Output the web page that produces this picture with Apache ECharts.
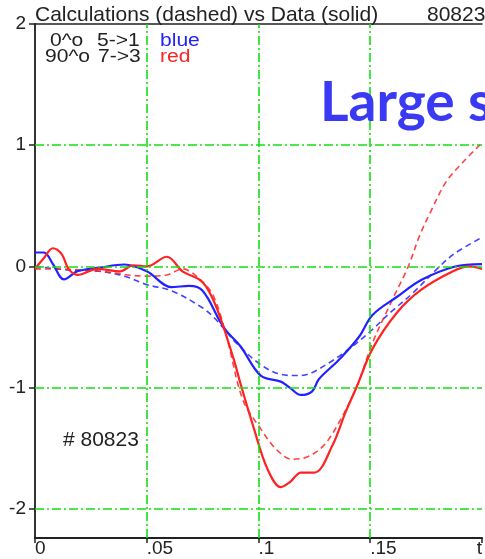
<!DOCTYPE html>
<html>
<head>
<meta charset="utf-8">
<script src="https://cdn.jsdelivr.net/npm/echarts@6/dist/echarts.min.js"></script>
<style>
  html, body { margin: 0; padding: 0; background: #fff; }
  #chart { width: 485px; height: 559px; }
</style>
</head>
<body>
<div id="chart"></div>
<script>
// Shot 80823: calculated (dashed) and measured (solid) traces versus t
const blueData = [
  [0.000, 0.115], [0.004, 0.115], [0.008, 0.02], [0.013, -0.107], [0.019, -0.04],
  [0.029, -0.01], [0.040, 0.016], [0.050, -0.04], [0.061, -0.17], [0.069, -0.16],
  [0.075, -0.20], [0.083, -0.46], [0.086, -0.54], [0.092, -0.66], [0.101, -0.90],
  [0.110, -0.95], [0.114, -1.00], [0.119, -1.06], [0.124, -1.03], [0.127, -0.93],
  [0.136, -0.77], [0.145, -0.58], [0.151, -0.40], [0.162, -0.25], [0.173, -0.11],
  [0.188, 0.00], [0.200, 0.02]
];
const blueCalc = [
  [0.000, 0.00], [0.016, -0.03], [0.029, -0.04], [0.040, -0.08], [0.050, -0.15],
  [0.061, -0.20], [0.074, -0.33], [0.080, -0.42], [0.090, -0.63], [0.101, -0.81],
  [0.110, -0.89], [0.117, -0.90], [0.122, -0.89], [0.132, -0.79], [0.142, -0.66],
  [0.151, -0.52], [0.159, -0.38], [0.169, -0.22], [0.181, 0.00], [0.188, 0.11],
  [0.200, 0.24]
];
const redData = [
  [0.000, -0.02], [0.004, 0.07], [0.008, 0.15], [0.012, 0.10], [0.015, -0.02],
  [0.019, -0.07], [0.028, -0.02], [0.038, -0.04], [0.044, 0.01], [0.050, 0.00],
  [0.059, 0.08], [0.066, -0.04], [0.075, -0.13], [0.081, -0.33], [0.089, -0.77],
  [0.092, -0.97], [0.098, -1.34], [0.104, -1.67], [0.110, -1.82], [0.114, -1.78],
  [0.119, -1.70], [0.125, -1.70], [0.133, -1.48], [0.139, -1.20], [0.144, -0.99],
  [0.151, -0.68], [0.162, -0.38], [0.173, -0.19], [0.187, -0.04], [0.194, 0.00],
  [0.200, -0.02]
];
const redCalc = [
  [0.000, -0.02], [0.016, -0.025], [0.029, -0.04], [0.050, -0.08], [0.059, -0.07],
  [0.066, -0.02], [0.074, -0.11], [0.080, -0.25], [0.086, -0.60], [0.093, -1.10],
  [0.101, -1.34], [0.108, -1.51], [0.115, -1.59], [0.122, -1.57], [0.129, -1.48],
  [0.135, -1.32], [0.144, -0.99], [0.151, -0.63], [0.160, -0.27], [0.167, 0.00],
  [0.172, 0.25], [0.177, 0.45], [0.184, 0.70], [0.192, 0.87], [0.200, 1.02]
];

const yTicks = [-2, -1, 0, 1, 2];
const xTickLabels = ['0', '.05', '.1', '.15', 't'];
const gridX = [0.05, 0.1, 0.15];
const gridY = [-2, -1, 0, 1];

const FONT = '"Liberation Sans", Arial, Helvetica, sans-serif';
const BLUE = '#2222ff';
const RED = '#ff2222';
const GREEN = '#11e011';
const INK = '#222';

function curve(name, data, color, dashed) {
  return {
    name: name,
    type: 'line',
    data: data,
    smooth: 0.35,
    showSymbol: false,
    symbol: 'none',
    z: dashed ? 3 : 4,
    lineStyle: dashed
      ? { color: color, width: 1.6, type: [6, 4], opacity: 0.85 }
      : { color: color, width: 2.2 }
  };
}

const chart = echarts.init(document.getElementById('chart'), null, { renderer: 'canvas' });

chart.setOption({
  animation: false,
  backgroundColor: '#ffffff',
  grid: { left: 35, right: 0, top: 24, bottom: 21 },
  xAxis: [
    {
      type: 'value', min: 0, max: 0.2, interval: 0.05,
      axisLine: { show: true, onZero: false, lineStyle: { color: INK, width: 2 } },
      axisTick: { show: true, inside: false, length: 5, lineStyle: { color: INK, width: 1.5 } },
      axisLabel: {
        show: true, margin: 1, align: 'left', alignMaxLabel: 'right',
        fontFamily: FONT, fontSize: 19, color: INK,
        formatter: (v, i) => xTickLabels[i]
      },
      splitLine: { show: false }
    },
    {
      type: 'value', min: 0, max: 0.2, position: 'top',
      axisLine: { show: true, onZero: false, lineStyle: { color: INK, width: 1.5 } },
      axisTick: { show: false },
      axisLabel: { show: false },
      splitLine: { show: false }
    }
  ],
  yAxis: {
    type: 'value', min: -2.24, max: 2,
    axisLine: { show: true, onZero: false, lineStyle: { color: '#333', width: 2 } },
    axisTick: { show: true, length: 6, customValues: yTicks, lineStyle: { color: INK, width: 1.5 } },
    axisLabel: {
      show: true, margin: 9, customValues: yTicks,
      fontFamily: FONT, fontSize: 19, color: INK,
      padding: [0, 0, 8, 0],
      formatter: v => String(v)
    },
    splitLine: { show: false }
  },
  series: [
    {
      name: 'grid', type: 'line', data: [], z: 1,
      markLine: {
        silent: true, symbol: 'none', animation: false,
        label: { show: false },
        lineStyle: { color: GREEN, width: 1.6, type: [9, 3, 2, 3] },
        data: gridX.map(v => ({ xAxis: v })).concat(gridY.map(v => ({ yAxis: v })))
      }
    },
    curve('blue calc', blueCalc, BLUE, true),
    curve('red calc', redCalc, RED, true),
    curve('blue data', blueData, BLUE, false),
    curve('red data', redData, RED, false)
  ],
  graphic: [
    { type: 'text', left: 35, top: 5, z: 10,
      style: { text: 'Calculations (dashed) vs Data (solid)', font: '21px ' + FONT, fill: INK } },
    { type: 'text', left: 427, top: 5, z: 10,
      style: { text: '80823', font: '21px ' + FONT, fill: INK } },
    { type: 'text', left: 50, top: 32, scaleX: 1.17, z: 10,
      style: { text: '0^o', font: '18px ' + FONT, fill: INK } },
    { type: 'text', left: 97, top: 32, scaleX: 1.17, z: 10,
      style: { text: '5->1', font: '18px ' + FONT, fill: INK } },
    { type: 'text', left: 45, top: 48, scaleX: 1.17, z: 10,
      style: { text: '90^o', font: '18px ' + FONT, fill: INK } },
    { type: 'text', left: 98, top: 48, scaleX: 1.17, z: 10,
      style: { text: '7->3', font: '18px ' + FONT, fill: INK } },
    { type: 'text', left: 160, top: 32, scaleX: 1.17, z: 10,
      style: { text: 'blue', font: '18px ' + FONT, fill: BLUE } },
    { type: 'text', left: 160, top: 48, scaleX: 1.17, z: 10,
      style: { text: 'red', font: '18px ' + FONT, fill: RED } },
    { type: 'text', left: 63, top: 430, z: 10,
      style: { text: '# 80823', font: '21px ' + FONT, fill: INK } },
    { type: 'text', left: 320, top: 76, z: 10,
      style: { text: 'Large s', font: 'bold 55px Lato, "Open Sans", sans-serif', fill: '#3a3af5' } }
  ]
});
</script>
</body>
</html>
